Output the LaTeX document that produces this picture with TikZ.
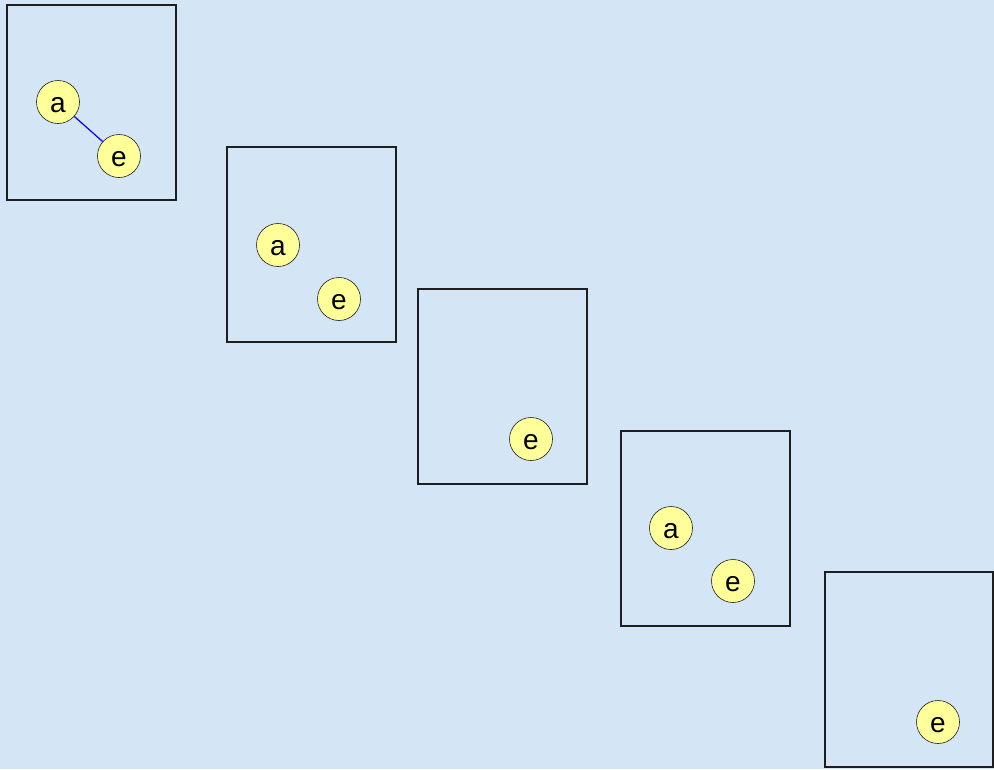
\documentclass[tikz,border=0pt]{standalone}
\usepackage{fontspec}
\setmainfont{Liberation Sans}
\definecolor{Sky}{HTML}{D4E5F5}
\definecolor{Lemon}{HTML}{FFFF99}
\definecolor{Edge}{HTML}{1E1E1E}

\begin{document}
\begin{tikzpicture}[
    x=1pt,y=-1pt,
    frame/.style={draw=Edge,line width=1.6pt,minimum width=169pt,minimum height=195pt,inner sep=0pt},
    vert/.style={circle,draw=Edge,line width=.6pt,fill=Lemon,minimum size=43pt,inner sep=0pt,text height=21pt,text depth=0pt,font=\fontsize{28}{30}\selectfont},
    link/.style={draw=blue,line width=1.2pt}
  ]
    \fill[Sky] (0,0) rectangle (994,769);
    \useasboundingbox (0,0) rectangle (994,769);
    \node[frame] (f1) at (91.5,102.5) {};
    \node[frame] (f2) at (311.5,244.5) {};
    \node[frame] (f3) at (502.5,386.5) {};
    \node[frame] (f4) at (705.5,528.5) {};
    \node[frame,minimum width=168pt] (f5) at (909,669.5) {};
    \node[vert] (a1) at (58,102) {a};
    \node[vert] (e1) at (119,156) {e};
    \node[vert] (a2) at (278,245) {a};
    \node[vert] (e2) at (339,299) {e};
    \node[vert] (e3) at (531,439) {e};
    \node[vert] (a4) at (671,528) {a};
    \node[vert] (e4) at (733,581) {e};
    \node[vert] (e5) at (938,722) {e};
    \draw[link] (a1) -- (e1);
  \end{tikzpicture}
\end{document}
